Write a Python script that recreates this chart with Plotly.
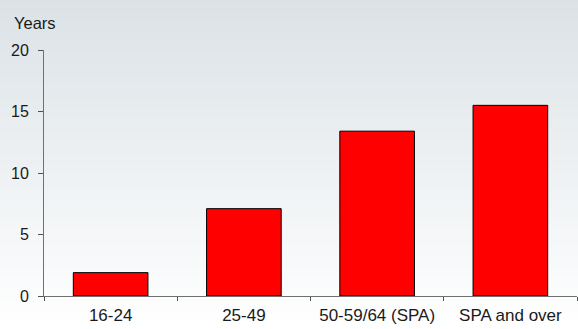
import plotly.graph_objects as go

# Average years by age band
categories = ["16-24", "25-49", "50-59/64 (SPA)", "SPA and over"]
values = [1.9, 7.1, 13.4, 15.5]
y_ticks = [0, 5, 10, 15, 20]

fig = go.Figure()
fig.add_trace(go.Bar(
    x=categories,
    y=values,
    marker=dict(color="#ff0000", line=dict(color="#000000", width=1)),
    width=0.56,
))

# Soft vertical background gradient built from thin horizontal bands
top_rgb = (219, 226, 230)
bottom_rgb = (255, 255, 255)
n_bands = 70
y_lo, y_hi = -0.14, 1.21
shapes = []
for i in range(n_bands):
    t = i / (n_bands - 1)
    r = round(bottom_rgb[0] + (top_rgb[0] - bottom_rgb[0]) * t)
    g = round(bottom_rgb[1] + (top_rgb[1] - bottom_rgb[1]) * t)
    b = round(bottom_rgb[2] + (top_rgb[2] - bottom_rgb[2]) * t)
    step = (y_hi - y_lo) / n_bands
    shapes.append(dict(
        type="rect", xref="paper", yref="paper",
        x0=-0.2, x1=1.2,
        y0=y_lo + step * i, y1=y_lo + step * (i + 1) + 0.002,
        fillcolor=f"rgb({r},{g},{b})", line=dict(width=0), layer="below",
    ))

font = dict(family="Liberation Sans, Arial, sans-serif", size=16, color="#1a1a1a")
xfont = dict(family="Liberation Sans, Arial, sans-serif", size=17, color="#1a1a1a")

fig.update_layout(
    width=578, height=329,
    margin=dict(l=44, r=1, t=50, b=33),
    paper_bgcolor="#ffffff",
    plot_bgcolor="rgba(0,0,0,0)",
    font=font,
    showlegend=False,
    shapes=shapes,
    xaxis=dict(
        showline=True, linecolor="#707070", linewidth=1,
        ticks="outside", ticklen=4, tickcolor="#505050",
        tickson="boundaries", showgrid=False, zeroline=False,
        tickfont=xfont, ticklabelstandoff=4,
    ),
    yaxis=dict(
        range=[0, 20], tickvals=y_ticks,
        showline=True, linecolor="#707070", linewidth=1,
        ticks="outside", ticklen=5, tickcolor="#505050",
        showgrid=False, zeroline=False, tickfont=font,
        ticklabelstandoff=6,
    ),
    annotations=[dict(
        text="Years", xref="paper", yref="paper",
        x=-32 / 533, y=1 + 27 / 246,
        xanchor="left", yanchor="middle", showarrow=False,
        font=dict(family="Liberation Sans, Arial, sans-serif", size=16.5, color="#1a1a1a"),
    )],
)

fig.write_html("out.html")
